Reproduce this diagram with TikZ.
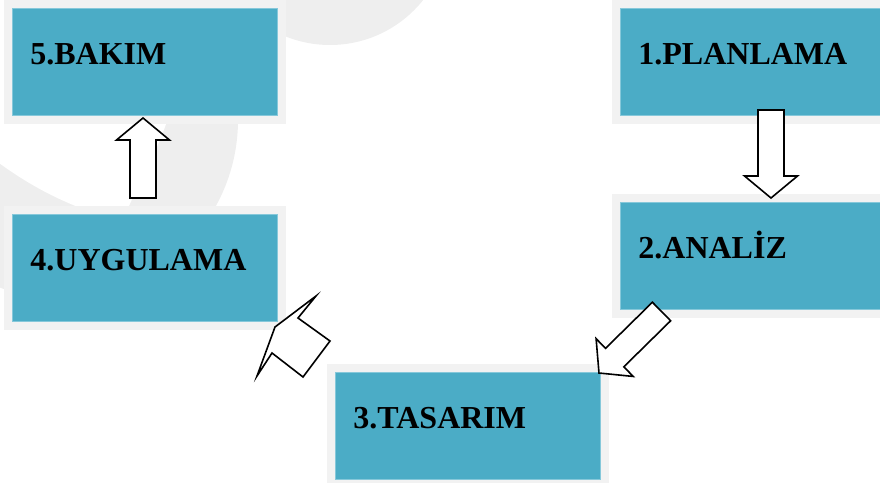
\documentclass[tikz,border=0pt]{standalone}
\usepackage{fontspec}
\setmainfont{Liberation Serif}
\usepackage{tikz}
\usetikzlibrary{calc}

\definecolor{stagefill}{HTML}{4BACC6}
\definecolor{stageedge}{HTML}{86C8DA}
\definecolor{framegray}{HTML}{F2F2F2}
\definecolor{markgray}{HTML}{EEEEEE}

% block arrow from #1 (tail) to #2 (tip)
\newcommand{\blockarrow}[2]{%
  \coordinate (hb) at ($(#2)!22pt!(#1)$);
  \draw[arrowshape] ($(#1)!13pt!90:(#2)$) -- ($(hb)!13pt!-90:(#1)$)
    -- ($(hb)!26.5pt!-90:(#1)$) -- (#2) -- ($(hb)!26.5pt!90:(#1)$)
    -- ($(hb)!13pt!90:(#1)$) -- ($(#1)!13pt!-90:(#2)$) -- cycle;
}

\begin{document}
\begin{tikzpicture}[x=1pt, y=-1pt,
    stage/.style={fill=stagefill, draw=stageedge, line width=0.8pt,
      preaction={draw=framegray, line width=17pt},
      anchor=north west, align=left, text width=229pt,
      inner xsep=18pt, inner ysep=0pt, text height=56pt, text depth=51pt,
      font=\bfseries\fontsize{32}{38}\selectfont},
    arrowshape/.style={draw=black, fill=white, line width=1.6pt, line join=miter},
    watermark/.style={fill=markgray}]
    \useasboundingbox (0,0) rectangle (880,482);
    \clip (0,0) rectangle (880,482);

    % draw faint background logo
    \fill[watermark] (330,-74) circle (119pt);
    \fill[watermark] (60,120) circle (178pt);
    \fill[white] (-5,-5) -- (-5,160) .. controls (35,190) and (70,205) .. (100,215)
      -- (125,215) .. controls (140,180) and (158,150) .. (168,118) -- (175,-5) -- cycle;

    % draw stages
    \node[stage] (plan) at (620,8) {1.PLANLAMA};
    \node[stage] (analiz) at (620,202) {2.ANALİZ};
    \node[stage] (tasarim) at (335,372) {3.TASARIM};
    \node[stage] (uygulama) at (12,214) {4.UYGULAMA};
    \node[stage] (bakim) at (12,8) {5.BAKIM};

    % arrow ends
    \coordinate (planout) at (771,110);
    \coordinate (analizin) at (771,198);
    \coordinate (analizout) at (661.5,311.5);
    \coordinate (tasarimin) at (599,373);
    \coordinate (uygout) at (143,198);
    \coordinate (bakimin) at (143,118);

    % draw arrows
    \blockarrow{planout}{analizin}
    \blockarrow{analizout}{tasarimin}
    \blockarrow{uygout}{bakimin}

    % the bent arrow from 3 to 4
    \draw[arrowshape] (316,296) -- (298,318) -- (330,341) -- (303,377)
      -- (272,353) -- (257,376) -- (275,327) -- cycle;
\end{tikzpicture}
\end{document}
